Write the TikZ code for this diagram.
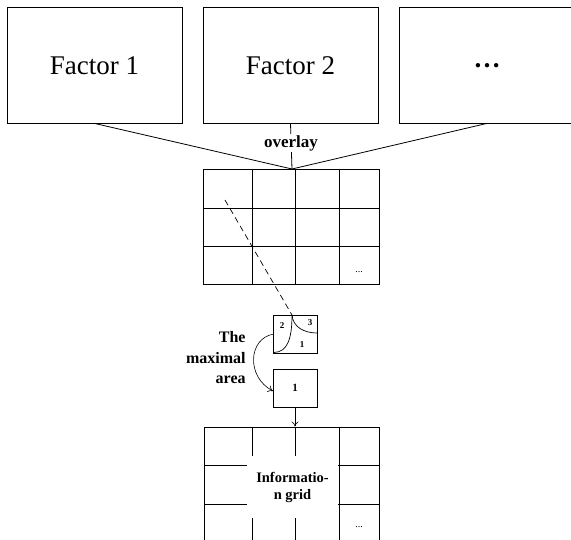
\documentclass[tikz,border=0pt]{standalone}
\usepackage{fontspec}
\setmainfont{Liberation Serif}
\usetikzlibrary{arrows.meta}
\begin{document}
\begin{tikzpicture}[x=1pt,y=-1pt,
  line width=0.8pt,
  factorbox/.style={draw, minimum width=175pt, minimum height=115.5pt, inner sep=0pt, font=\fontsize{27}{30}\selectfont},
  gridbox/.style={draw, minimum width=176pt, minimum height=115pt, inner sep=0pt},
  smallbox/.style={draw, minimum width=44pt, minimum height=38pt, inner sep=0pt},
  lbl/.style={font=\bfseries\fontsize{16}{20.5}\selectfont},
  tiny lbl/.style={font=\bfseries\fontsize{9}{10}\selectfont, inner sep=0pt},
  dotslbl/.style={font=\fontsize{10}{12}\selectfont, inner sep=0pt},
  arr/.style={-{To[length=5pt,width=7pt]}, line width=0.6pt}
]
\clip (0,0) rectangle (571,540);
\useasboundingbox (0,0) rectangle (571,540);

% factor boxes
\node[factorbox] (f1) at (94.5,65.25) {Factor 1};
\node[factorbox] (f2) at (290.5,65.25) {Factor 2};
\node[factorbox, font=\bfseries\fontsize{27}{30}\selectfont] (f3) at (487,65.25) {…};

% overlay grid
\node[gridbox] (g1) at (291,226.5) {};
\coordinate (meet) at (292,169);
\draw (f1.south) -- (meet);
\draw (f3.south) -- (meet);
\draw (f2.south) -- (meet);
\node[lbl, fill=white, inner sep=1pt, font=\bfseries\fontsize{17}{20}\selectfont] (ov) at (291,143) {overlay};

\draw (252,169) -- (252,284);
\draw (295,169) -- (295,284);
\draw (339,169) -- (339,284);
\draw (203,208) -- (379,208);
\draw (203,246) -- (379,246);
\node[dotslbl] (d1) at (359,272) {...};

% piece box
\node[smallbox] (piece) at (295,334) {};
\coordinate (ptop) at (292,315);
\coordinate (dstart) at (225,200);
\draw[dashed, dash pattern=on 6pt off 4pt, line width=0.7pt] (dstart) -- (ptop);
\coordinate (pbl) at (274,352.5);
\coordinate (pr) at (317,333);
\draw[line width=0.7pt] (ptop) .. controls (292,340) and (287,352) .. (pbl);
\draw[line width=0.7pt] (ptop) .. controls (293,327) and (304,333) .. (pr);
\node[tiny lbl] (n2) at (282,326) {2};
\node[tiny lbl] (n3) at (310,323) {3};
\node[tiny lbl] (n1) at (302,345) {1};

% maximal area box
\node[smallbox, font=\bfseries\fontsize{11}{12}\selectfont] (b1) at (295,388) {1};
\node[lbl, align=right, anchor=east, inner sep=0pt] (ma) at (246,358) {The\\maximal\\area};
\coordinate (cs) at (274,334);
\coordinate (ce) at (273,391);
\draw[arr] (cs) .. controls (248,338) and (246,377) .. (ce);

% information grid
\node[gridbox, minimum width=175pt] (g2) at (291.5,484.5) {};
\draw[arr] (b1.south) -- (g2.north -| b1.south);
\draw (252,427) -- (252,542);
\draw (295,427) -- (295,542);
\draw (339,427) -- (339,542);
\draw (204,465) -- (379,465);
\draw (204,504) -- (379,504);
\node[fill=white, minimum width=91pt, minimum height=62pt, inner sep=0pt, align=center,
      font=\bfseries\fontsize{14.5}{17}\selectfont] (info) at (292.5,487) {Informatio-\\n grid};
\node[dotslbl] (d2) at (359,527) {...};
\end{tikzpicture}
\end{document}
